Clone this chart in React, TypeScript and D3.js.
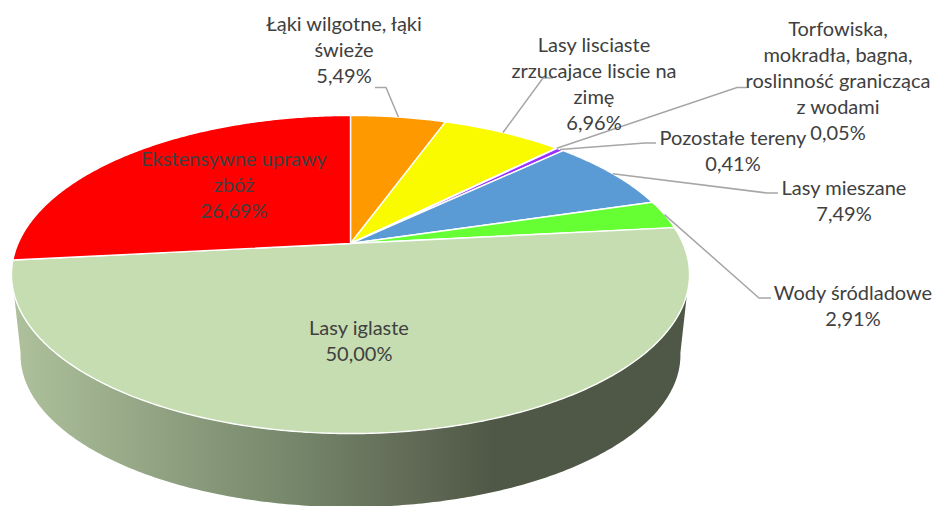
import React from "react";
import * as d3 from "d3";

const categories = [
  "Łąki wilgotne, łąki świeże",
  "Lasy lisciaste zrzucajace liscie na zimę",
  "Torfowiska, mokradła, bagna, roslinność granicząca z wodami",
  "Pozostałe tereny",
  "Lasy mieszane",
  "Wody śródladowe",
  "Lasy iglaste",
  "Ekstensywne uprawy zbóż",
];
const values = [5.49, 6.96, 0.05, 0.41, 7.49, 2.91, 50.0, 26.69];
const valueLabels = ["5,49%", "6,96%", "0,05%", "0,41%", "7,49%", "2,91%", "50,00%", "26,69%"];
const colors = ["#ff9900", "#fbfb00", "#e8e8f0", "#9933ff", "#5b9bd5", "#66ff33", "#c5ddb0", "#ff0000"];
const labelLines = [
  ["Łąki wilgotne, łąki", "świeże"],
  ["Lasy lisciaste", "zrzucajace liscie na", "zimę"],
  ["Torfowiska,", "mokradła, bagna,", "roslinność granicząca", "z wodami"],
  ["Pozostałe tereny"],
  ["Lasy mieszane"],
  ["Wody śródladowe"],
  ["Lasy iglaste"],
  ["Ekstensywne uprawy", "zbóż"],
];
// label centre x, first-line middle y, leader elbow [x, y] and leader end x
const labelLayout: { x: number; y: number; elbow?: [number, number]; end?: number }[] = [
  { x: 344, y: 24, elbow: [386, 87.5], end: 375 },
  { x: 594, y: 45, elbow: [543, 78], end: 553 },
  { x: 838, y: 29, elbow: [737, 87.5], end: 747 },
  { x: 733, y: 138, elbow: [645, 143], end: 656 },
  { x: 844, y: 188, elbow: [767, 193], end: 778 },
  { x: 853, y: 293, elbow: [759, 298], end: 771 },
  { x: 359, y: 328 },
  { x: 234, y: 159 },
];

const W = 932;
const H = 506;
const LINE = 26;
const CX = 350.5;
const top = { cy: 243.5, a: 332.5, b: 153, k: 0.195 };
const bottom = { cy: 325.4, a: 323.6, b: 146.2, k: 0.195 };

type Rim = typeof top;
const project = (rim: Rim, t: number): [number, number] => {
  const d = 1 + rim.k * Math.cos(t);
  return [CX + (rim.a * Math.sin(t)) / d, rim.cy - (rim.b * Math.cos(t)) / d];
};
const arcPts = (rim: Rim, t0: number, t1: number) => {
  const n = Math.max(2, Math.ceil(Math.abs(t1 - t0) / 0.01));
  return d3.range(n + 1).map((i) => project(rim, t0 + ((t1 - t0) * i) / n));
};
const line = d3.line<[number, number]>();
const deg = (d: number) => (d * Math.PI) / 180;

const pie = d3.pie<number>().sort(null).value((d) => d);
const slices = pie(values);

const sidePath =
  line([
    ...arcPts(top, deg(108), deg(252)),
    ...arcPts(bottom, deg(259.5), deg(100.5)),
  ]) + "Z";

export default function App() {
  return (
    <svg
      width={W}
      height={H}
      viewBox={`0 0 ${W} ${H}`}
      style={{ position: "absolute", left: 0, top: 0, display: "block", background: "#fff" }}
      fontFamily="Lato, Carlito, sans-serif"
    >
      <defs>
        <linearGradient id="side" gradientUnits="userSpaceOnUse" x1={14} x2={688} y1={0} y2={0}>
          <stop offset="0" stopColor="#aec19c" />
          <stop offset="0.425" stopColor="#748569" />
          <stop offset="0.575" stopColor="#636d58" />
          <stop offset="0.71" stopColor="#4f5846" />
          <stop offset="1" stopColor="#4f5846" />
        </linearGradient>
      </defs>
      <path d={sidePath} fill="url(#side)" />
      {slices.map((s, i) => (
        <path
          key={categories[i]}
          d={line([[CX, top.cy], ...arcPts(top, s.startAngle, s.endAngle)]) + "Z"}
          fill={colors[i]}
          stroke="#fff"
          strokeWidth={1.4}
          strokeLinejoin="round"
        />
      ))}
      {slices.map((s, i) => {
        const l = labelLayout[i];
        if (!l.elbow) return null;
        const anchor = project(top, (s.startAngle + s.endAngle) / 2);
        return (
          <path
            key={categories[i]}
            d={line([[l.end as number, l.elbow[1]], l.elbow, anchor]) as string}
            fill="none"
            stroke="#a6a6a6"
            strokeWidth={1.5}
          />
        );
      })}
      {labelLines.map((lines, i) => (
        <text
          key={categories[i]}
          x={labelLayout[i].x}
          fontSize={20}
          fill="#404040"
          textAnchor="middle"
        >
          {[...lines, valueLabels[i]].map((t, j) => (
            <tspan key={j} x={labelLayout[i].x} y={labelLayout[i].y + j * LINE + 6.5}>
              {t}
            </tspan>
          ))}
        </text>
      ))}
    </svg>
  );
}
